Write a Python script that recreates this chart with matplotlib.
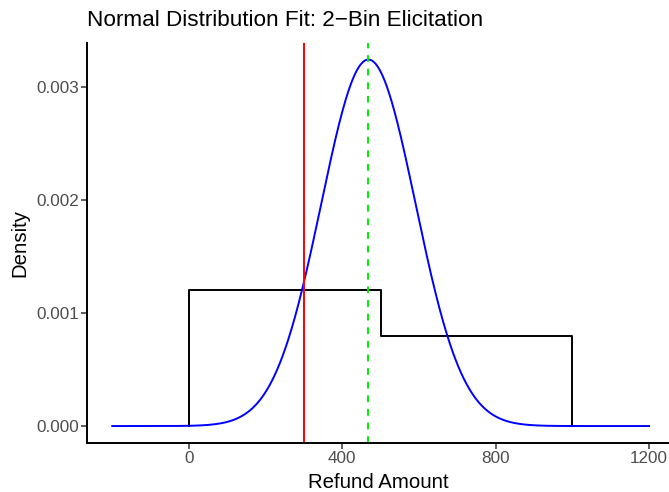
import numpy as np
import matplotlib
matplotlib.use("Agg")
import matplotlib.pyplot as plt

plt.rcParams['font.family'] = ['Liberation Sans', 'DejaVu Sans']

# fitted normal parameters (read from the peak)
mu = 468
sigma = 123
x_range = [-200, 1200]

# elicited 2-bin histogram
bin_edges = [0, 500, 1000]
bin_density = [0.0012, 0.0008]

true_value = 300

fig = plt.figure(figsize=(6.69, 4.92), dpi=100)
ax = fig.add_axes([0.130, 0.0996, 0.870, 0.813])

xs = np.linspace(x_range[0], x_range[1], 600)
dens = np.exp(-(xs - mu) ** 2 / (2 * sigma ** 2)) / (sigma * np.sqrt(2 * np.pi))

step_x = [bin_edges[0], bin_edges[0], bin_edges[1], bin_edges[1], bin_edges[2], bin_edges[2]]
step_y = [0, bin_density[0], bin_density[0], bin_density[1], bin_density[1], 0]
lw = 1.4
ax.plot(step_x, step_y, color='black', lw=lw)
ax.plot(xs, dens, color='blue', lw=lw)
ax.axvline(true_value, color='red', lw=lw)
ax.axvline(mu, color='#00ee00', lw=lw, ls=(0, (3.5, 3.5)))

ax.set_xlim(-266, 1252)
ax.set_ylim(-0.00015, 0.00339)
ax.set_xticks([0, 400, 800, 1200])
ax.set_yticks([0, 0.001, 0.002, 0.003])
ax.set_yticklabels(['0.000', '0.001', '0.002', '0.003'])

for s in ['top', 'right']:
    ax.spines[s].set_visible(False)
for s in ['left', 'bottom']:
    ax.spines[s].set_linewidth(lw)
ax.tick_params(length=4, width=1.1, color='#333333', labelsize=12.3, labelcolor='#4D4D4D', pad=2)

ax.set_xlabel('Refund Amount', fontsize=14.7, labelpad=5)
ax.set_ylabel('Density', fontsize=14.7, labelpad=5)
fig.text(0.130, 0.937, 'Normal Distribution Fit: 2\u2212Bin Elicitation', fontsize=16.2, ha='left', va='bottom')

fig.savefig('out.png', dpi=100)
